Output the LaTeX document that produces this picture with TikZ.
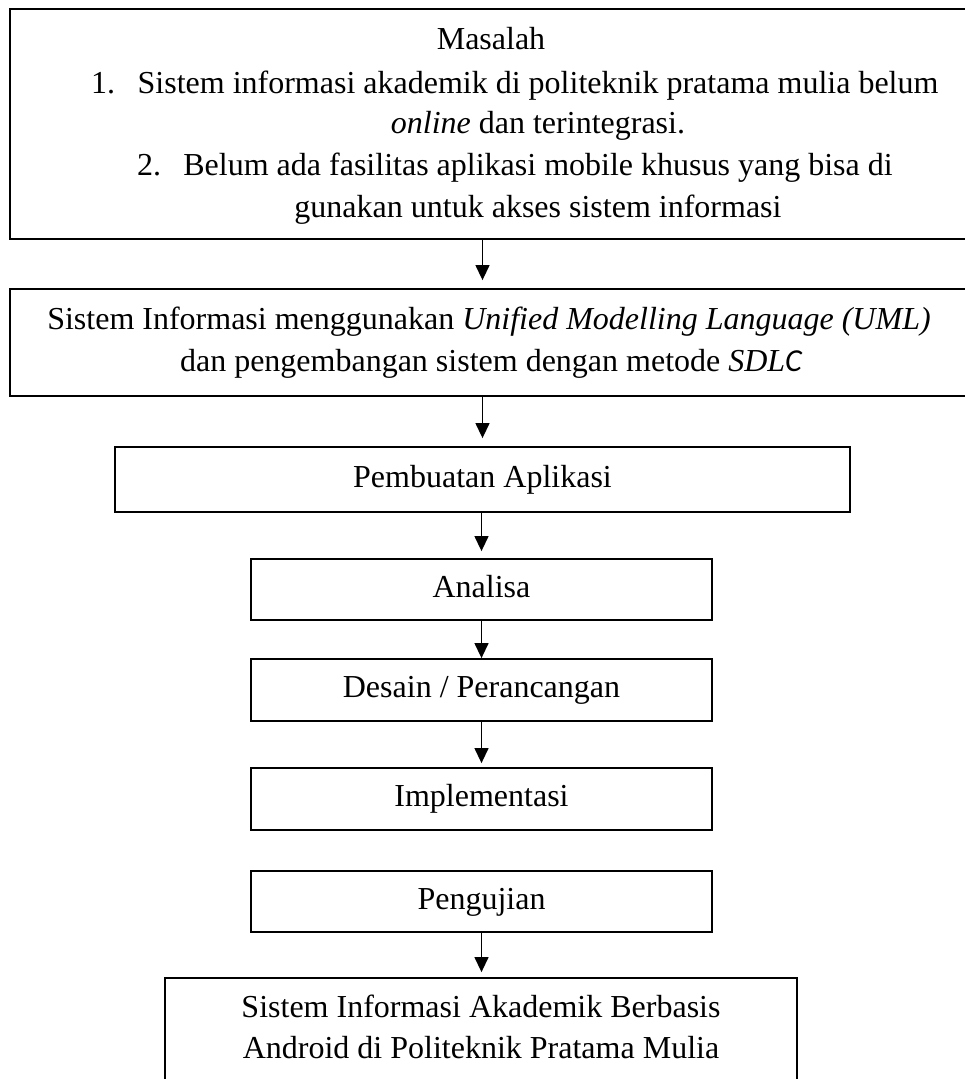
\documentclass[tikz,border=0pt]{standalone}
\usepackage{fontspec}
\setmainfont{Liberation Serif}
\newfontfamily\carlitofont{Carlito}
\usetikzlibrary{arrows.meta}
\begin{document}
\begin{tikzpicture}[x=1pt,y=-1pt,
  every node/.style={font=\fontsize{32}{42}\selectfont},
  box/.style={draw, line width=1.8pt, rectangle, inner sep=0pt, text height=22pt, text depth=7pt},
  txt/.style={anchor=base, inner sep=0pt},
  arr/.style={line width=1.3pt, -{Triangle[width=14pt,length=15pt]}}]
\useasboundingbox (0,0) rectangle (965,1079);
\clip (0,0) rectangle (965,1079);
\fill[white] (0,0) rectangle (965,1079);
% Box 1: Masalah
\node[box, minimum width=962pt, minimum height=230pt] (b1) at (491,124) {};
\node[txt] (t0) at (491,49) {Masalah};
\node[txt, anchor=base west] (n1) at (91,93) {1.};
\node[txt] (t1) at (538,93) {Sistem informasi akademik di politeknik pratama mulia belum};
\node[txt] (t2) at (538,133) {\textit{online} dan terintegrasi.};
\node[txt, anchor=base west] (n2) at (137,175) {2.};
\node[txt] (t3) at (538,175) {Belum ada fasilitas aplikasi mobile khusus yang bisa di};
\node[txt] (t4) at (538,217) {gunakan untuk akses sistem informasi};
% Box 2
\node[box, minimum width=962pt, minimum height=107pt] (b2) at (491,342.5) {};
\node[txt] (t5) at (489,329) {Sistem Informasi menggunakan \textit{Unified Modelling Language (UML)}};
\node[txt] (t6) at (491,371) {dan pengembangan sistem dengan metode \textit{SDL}{\carlitofont\itshape C}};
% Chain
\node[box, minimum width=735pt, minimum height=65pt] (b3) at (482.5,479.5) {Pembuatan Aplikasi};
\node[box, minimum width=461pt, minimum height=61pt] (b4) at (481.5,589.5) {Analisa};
\node[box, minimum width=461pt, minimum height=62pt] (b5) at (481.5,690) {Desain / Perancangan};
\node[box, minimum width=461pt, minimum height=62pt] (b6) at (481.5,799) {Implementasi};
\node[box, minimum width=461pt, minimum height=61pt] (b7) at (481.5,901.5) {Pengujian};
% Box 8
\node[box, minimum width=632pt, minimum height=114pt] (b8) at (481,1035) {};
\node[txt] (t7) at (481,1017) {Sistem Informasi Akademik Berbasis};
\node[txt] (t8) at (481,1058) {Android di Politeknik Pratama Mulia};
% Connectors
\draw[arr, shorten >=8pt] (b1.south -| b3.center) -- (b2.north -| b3.center);
\draw[arr, shorten >=8pt] (b2.south -| b3.center) -- (b3.north);
\draw[arr, shorten >=7pt] (b3.south -| b4.center) -- (b4.north);
\draw[arr] (b4.south) -- (b5.north);
\draw[arr, shorten >=4pt] (b5.south) -- (b6.north);
\draw[arr, shorten >=5pt] (b7.south) -- (b8.north -| b7.center);
\end{tikzpicture}
\end{document}
